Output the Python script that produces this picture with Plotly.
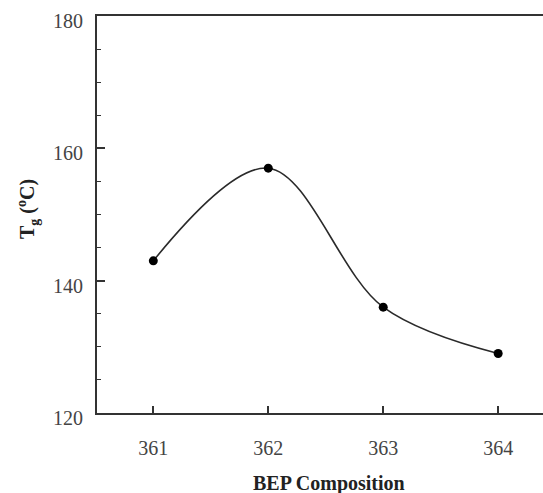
import plotly.graph_objects as go

compositions = [361, 362, 363, 364]
tg_values = [143.0, 157.0, 136.0, 129.0]
x_ticks = [361, 362, 363, 364]
y_ticks = [120, 140, 160, 180]

fig = go.Figure()
fig.add_trace(go.Scatter(
    x=compositions, y=tg_values,
    mode="lines+markers",
    line=dict(color="#2a2a2a", width=1.6, shape="spline", smoothing=1.0),
    marker=dict(color="#000000", size=9),
    showlegend=False,
))

axis_font = dict(family="Liberation Serif, Times New Roman, serif", size=20, color="#444444")
title_font = dict(family="Liberation Serif, Times New Roman, serif", size=20, color="#222222")

fig.update_layout(
    width=543, height=493,
    margin=dict(l=97, r=0, t=16, b=80),
    paper_bgcolor="white", plot_bgcolor="white",
    xaxis=dict(
        range=[360.51, 364.39],
        tickmode="array", tickvals=x_ticks, ticktext=[str(v) for v in x_ticks],
        ticks="inside", ticklen=7, tickwidth=1.5, tickcolor="#333333",
        showline=True, linecolor="#333333", linewidth=2, mirror=True,
        showgrid=False, zeroline=False,
        tickfont=axis_font, ticklabelstandoff=16,
    ),
    yaxis=dict(
        range=[120, 180],
        tickmode="array", tickvals=y_ticks, ticktext=[str(v) for v in y_ticks],
        ticks="inside", ticklen=8, tickwidth=1.5, tickcolor="#333333",
        minor=dict(dtick=5, ticks="inside", ticklen=4, tickwidth=1.3, tickcolor="#333333", showgrid=False),
        showline=True, linecolor="#333333", linewidth=2, mirror=False,
        showgrid=False, zeroline=False,
        tickfont=axis_font, ticklabelstandoff=8, ticklabelshift=5,
    ),
    annotations=[
        dict(text="<b>BEP Composition</b>", xref="paper", yref="paper",
             x=(328.5 - 97) / 446, y=-(483 - 413) / 397, xanchor="center", yanchor="middle",
             showarrow=False, font=title_font),
        dict(text="<b>T<sub>g</sub> (<sup>o</sup>C)</b>", xref="paper", yref="paper",
             x=-(97 - 28) / 446, y=(413 - 209) / 397, xanchor="center", yanchor="middle",
             textangle=-90, showarrow=False, font=title_font),
    ],
)

fig.write_html("out.html")
